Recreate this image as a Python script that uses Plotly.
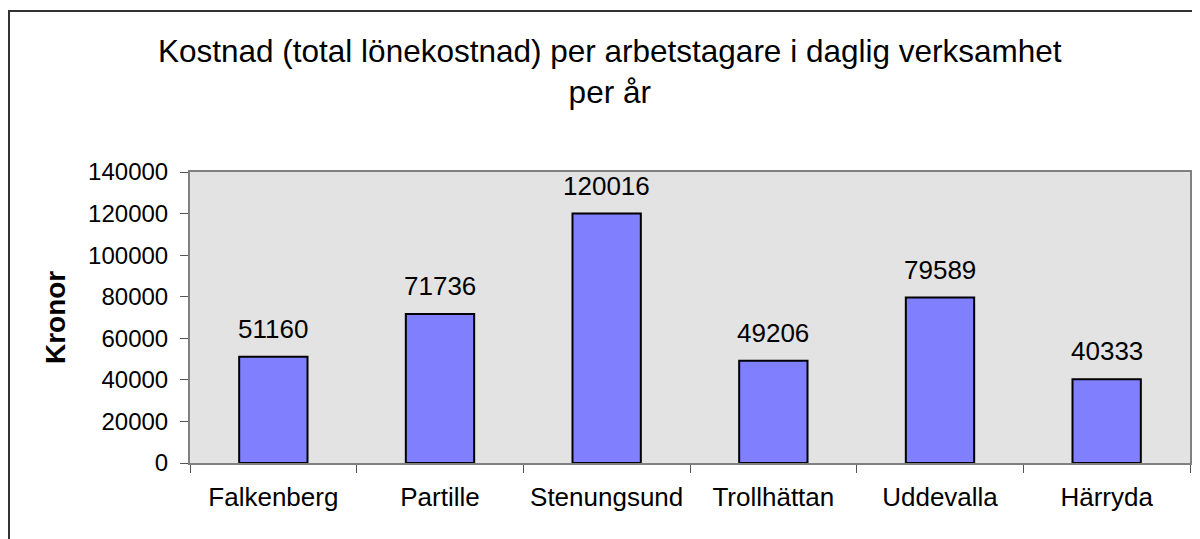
import plotly.graph_objects as go

categories = ["Falkenberg", "Partille", "Stenungsund", "Trollhättan", "Uddevalla", "Härryda"]
values = [51160, 71736, 120016, 49206, 79589, 40333]
y_ticks = [0, 20000, 40000, 60000, 80000, 100000, 120000, 140000]

FONT = "Liberation Sans, Arial, sans-serif"

fig = go.Figure(go.Bar(
    x=categories, y=values,
    marker=dict(color="#8080ff", line=dict(color="#000000", width=2)),
))

fig.update_layout(
    width=1200, height=539,
    margin=dict(l=182, r=18, t=164, b=84),
    paper_bgcolor="#ffffff", plot_bgcolor="#e3e3e3",
    bargap=0.59, showlegend=False,
    font=dict(family=FONT, color="#000000"),
)
fig.update_xaxes(showline=True, linecolor="#808080", linewidth=2, mirror=True,
                 ticks="outside", ticklen=8, tickcolor="#555555", tickwidth=1,
                 tickson="boundaries", showgrid=False, ticklabelstandoff=10,
                 tickfont=dict(family=FONT, size=26, color="#000000"))
fig.update_yaxes(range=[0, 140000], tickvals=y_ticks, ticktext=[str(t) for t in y_ticks],
                 showline=True, linecolor="#808080", linewidth=2, mirror=True,
                 ticks="outside", ticklen=8, tickcolor="#555555", tickwidth=1,
                 showgrid=False, zeroline=False, ticklabelstandoff=7,
                 tickfont=dict(family=FONT, size=24, color="#000000"))

for c, v in zip(categories, values):
    fig.add_annotation(x=c, y=v, text=str(v), showarrow=False, yanchor="bottom",
                       yshift=11, font=dict(family=FONT, size=26, color="#000000"))

fig.add_annotation(text="Kostnad (total lönekostnad) per arbetstagare i daglig verksamhet<br>per år",
                   xref="paper", yref="paper", x=0.42, xanchor="center",
                   y=1.347, yanchor="middle", showarrow=False,
                   font=dict(family=FONT, size=31.5, color="#000000"))

fig.add_annotation(text="<b>Kronor</b>", textangle=-90, xref="paper", yref="paper",
                   x=-0.135, xanchor="center", y=0.498, yanchor="middle", showarrow=False,
                   font=dict(family=FONT, size=28, color="#000000"))

fig.add_shape(type="rect", xref="paper", yref="paper",
              x0=-0.181, x1=1.03, y0=-0.35, y1=1.553,
              line=dict(color="#333333", width=2), fillcolor="rgba(0,0,0,0)", layer="below")

fig.write_html("out.html")
